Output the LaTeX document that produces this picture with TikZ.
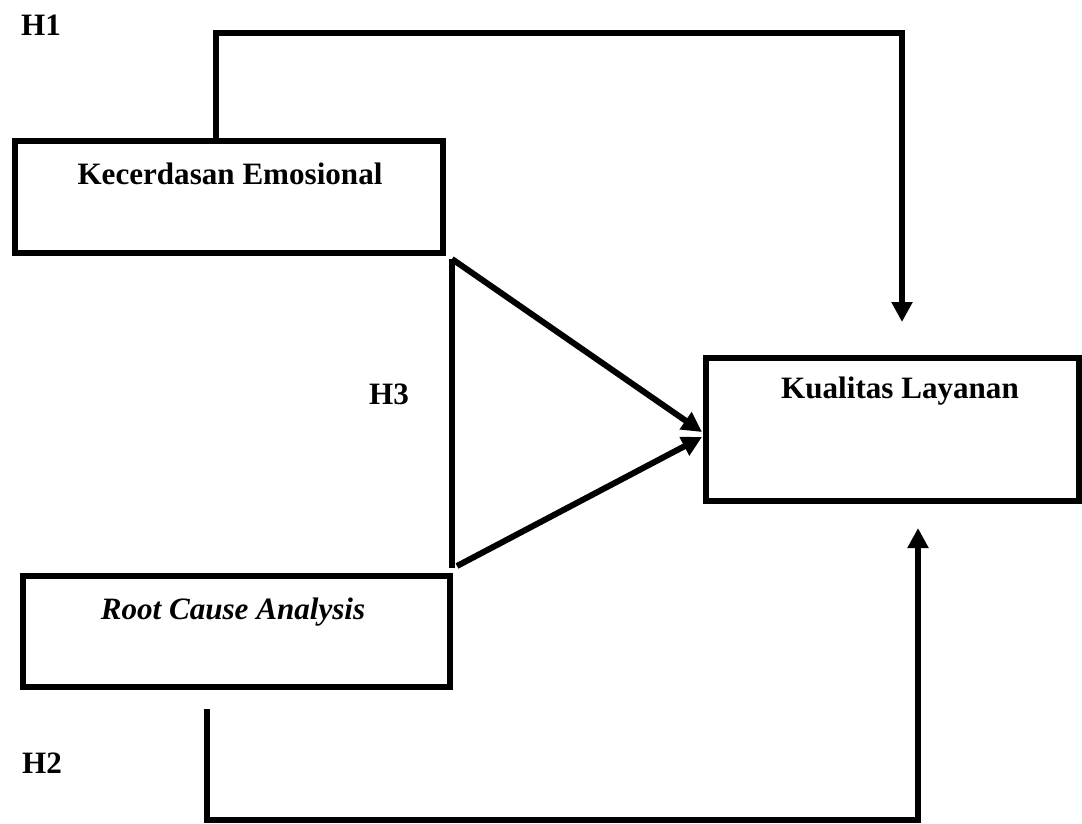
\documentclass[tikz,border=0pt]{standalone}
\usepackage{fontspec}
\setmainfont{Liberation Serif}
\usetikzlibrary{arrows.meta,positioning}

\begin{document}
\begin{tikzpicture}[x=0.02cm,y=-0.02cm,
  kotak/.style={draw,line width=0.12cm,inner sep=0pt},
  judul/.style={font=\fontsize{17.7}{21}\selectfont\bfseries},
  garis/.style={line width=0.12cm},
  panah/.style={garis,-{Triangle[length=0.4cm,width=0.4cm]}}]
 \useasboundingbox (0,0) rectangle (1082,823);
 % variabel
 \node[kotak,minimum width=8.56cm,minimum height=2.24cm] (KE) at (229,197) {};
 \node[kotak,minimum width=8.56cm,minimum height=2.22cm] (RCA) at (236.5,631) {};
 \node[kotak,minimum width=7.46cm,minimum height=2.86cm] (KL) at (892.5,429.5) {};
 \node[judul] (tKE) at (230,174) {Kecerdasan Emosional};
 \node[judul,font=\fontsize{17.7}{21}\selectfont\bfseries\itshape] (tRCA) at (233,612) {Root Cause Analysis};
 \node[judul] (tKL) at (900,391) {Kualitas Layanan};
 % hipotesis
 \node[judul] (H1) at (41,25) {H1};
 \node[judul] (H2) at (42,763) {H2};
 \node[judul] (H3) at (389,394) {H3};
 \coordinate (h1a) at (216,33);
 \coordinate (h1b) at (902,33);
 \coordinate (h1c) at (902,322);
 \coordinate (h2a) at (207,709);
 \coordinate (h2b) at (207,820);
 \coordinate (h2c) at (918,820);
 \coordinate (h2d) at (918,528);
 \coordinate (h3a) at (452,259);
 \coordinate (h3b) at (452,568);
 \coordinate (h3c) at (457,566);
 \draw[panah] (h1a |- KE.north) -- (h1a) -- (h1b) -- (h1c);
 \draw[panah] (h2a) -- (h2b) -- (h2c) -- (h2d);
 \draw[garis] (h3a) -- (h3b);
 \draw[panah] (h3a) -- (702,432);
 \draw[panah] (h3c) -- (702,437);
\end{tikzpicture}
\end{document}
